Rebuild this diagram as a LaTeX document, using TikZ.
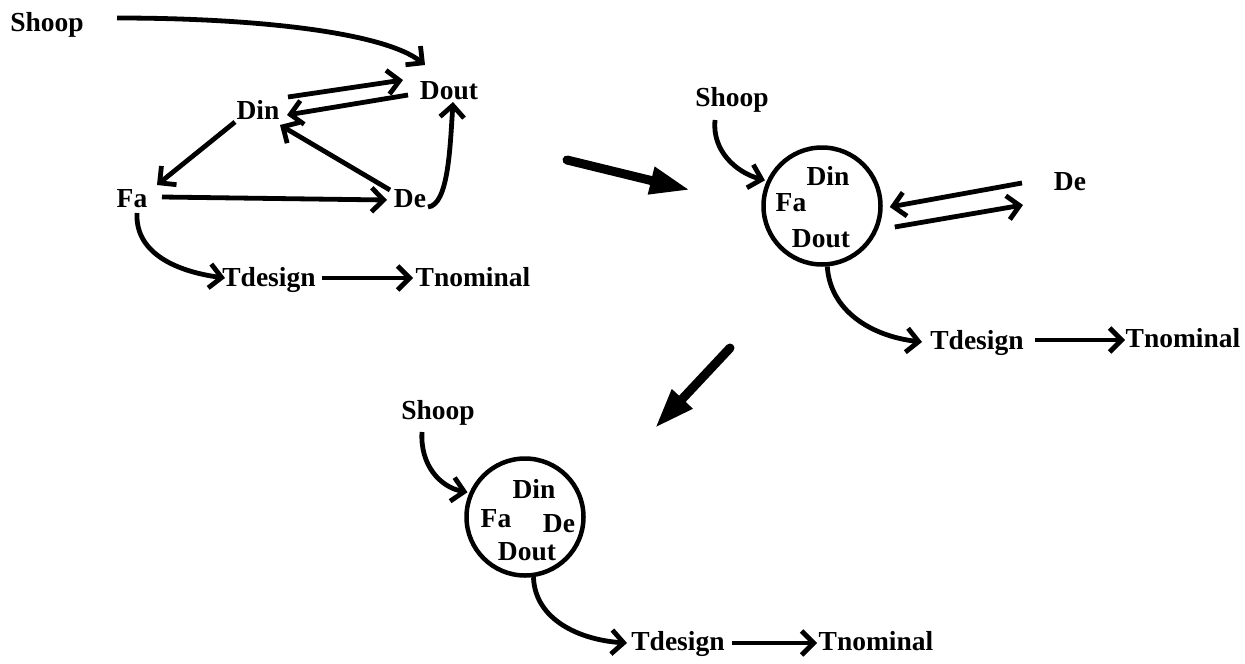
\documentclass[tikz,border=0pt]{standalone}
\usepackage{fontspec}
\setmainfont{Liberation Serif}
\usetikzlibrary{arrows.meta,calc}
\begin{document}
\begin{tikzpicture}[x=1pt,y=-1pt,
  lbl/.style={anchor=base,inner sep=0pt,font=\fontsize{27.5}{31}\selectfont\bfseries},
  arr/.style={line width=4.8pt,-{Straight Barb[length=12pt,width=24pt]}},
  bigarr/.style={line width=9pt,line cap=round,-{Triangle[length=40pt,width=26pt]}},
  grp/.style={circle,draw,line width=4.5pt,minimum size=117pt,inner sep=0pt}]
\useasboundingbox (0,0) rectangle (1245,664);
% ---------- group 1 ----------
\node[lbl] (shoop1) at (47,31) {Shoop};
\node[lbl] (dout1) at (449,99) {Dout};
\node[lbl] (din1) at (258,119) {Din};
\node[lbl] (fa1) at (132,207) {Fa};
\node[lbl] (de1) at (410,207) {De};
\node[lbl] (tdes1) at (269,286) {Tdesign};
\node[lbl] (tnom1) at (473,286) {Tnominal};
\draw[arr] ($(shoop1.base)+(70,-13)$) .. controls (260,18) and (385,33) .. ($(dout1.base)+(-24,-34)$);
\draw[arr] ($(din1.base)+(30,-22)$) -- ($(dout1.base)+(-46,-19)$);
\draw[arr] ($(dout1.base)+(-41,-4)$) -- ($(din1.base)+(29,-4)$);
\draw[arr] ($(din1.base)+(-23,3)$) -- ($(fa1.base)+(25,-22)$);
\draw[arr] ($(de1.base)+(-20,-17)$) -- ($(din1.base)+(22,6)$);
\draw[arr] ($(de1.base)+(18,0)$) .. controls (448,205) and (450,150) .. ($(dout1.base)+(4,3)$);
\draw[arr] ($(fa1.base)+(30,-10)$) -- ($(de1.base)+(-23,-7)$);
\draw[arr] ($(fa1.base)+(5,6)$) .. controls (135,255) and (180,272) .. ($(tdes1.base)+(-44,-8)$);
\draw[arr] ($(tdes1.base)+(53,-8)$) -- ($(tnom1.base)+(-60,-8)$);
% ---------- big arrows ----------
\coordinate (b1s) at (567,160);
\coordinate (b1e) at (690,190);
\draw[bigarr] (b1s) -- (b1e);
\coordinate (b2s) at (730,348);
\coordinate (b2e) at (655,428);
\draw[bigarr] (b2s) -- (b2e);
% ---------- group 2 ----------
\node[grp] (c2) at (822,206) {};
\node[lbl] (shoop2) at (732,106) {Shoop};
\node[lbl] (din2) at (828,185) {Din};
\node[lbl] (fa2) at (791,211) {Fa};
\node[lbl] (dout2) at (821,247) {Dout};
\node[lbl] (de2) at (1070,190) {De};
\node[lbl] (tdes2) at (977,349) {Tdesign};
\node[lbl] (tnom2) at (1183,347) {Tnominal};
\draw[arr] ($(shoop2.base)+(-17,14)$) .. controls (712,150) and (735,172) .. ($(c2.155)+(-2,0)$);
\draw[arr] ($(de2.base)+(-48,-7)$) -- ($(c2.east)+(7,1)$);
\draw[arr] ($(c2.east)+(12,21)$) -- ($(de2.base)+(-47,15)$);
\draw[arr] (c2.-85) .. controls (830,310) and (870,336) .. ($(tdes2.base)+(-55,-7)$);
\draw[arr] ($(tdes2.base)+(58,-9)$) -- ($(tnom2.base)+(-58,-7)$);
% ---------- group 3 ----------
\node[grp] (c3) at (525,517) {};
\node[lbl] (shoop3) at (438,419) {Shoop};
\node[lbl] (din3) at (534,498) {Din};
\node[lbl] (fa3) at (496,527) {Fa};
\node[lbl] (de3) at (559,532) {De};
\node[lbl] (dout3) at (527,560) {Dout};
\node[lbl] (tdes3) at (678,650) {Tdesign};
\node[lbl] (tnom3) at (876,650) {Tnominal};
\draw[arr] ($(shoop3.base)+(-16,13)$) .. controls (420,465) and (440,487) .. ($(c3.156)+(-2,0)$);
\draw[arr] (c3.-82) .. controls (535,620) and (580,640) .. ($(tdes3.base)+(-51,-7)$);
\draw[arr] ($(tdes3.base)+(54,-7)$) -- ($(tnom3.base)+(-59,-7)$);
\end{tikzpicture}
\end{document}
